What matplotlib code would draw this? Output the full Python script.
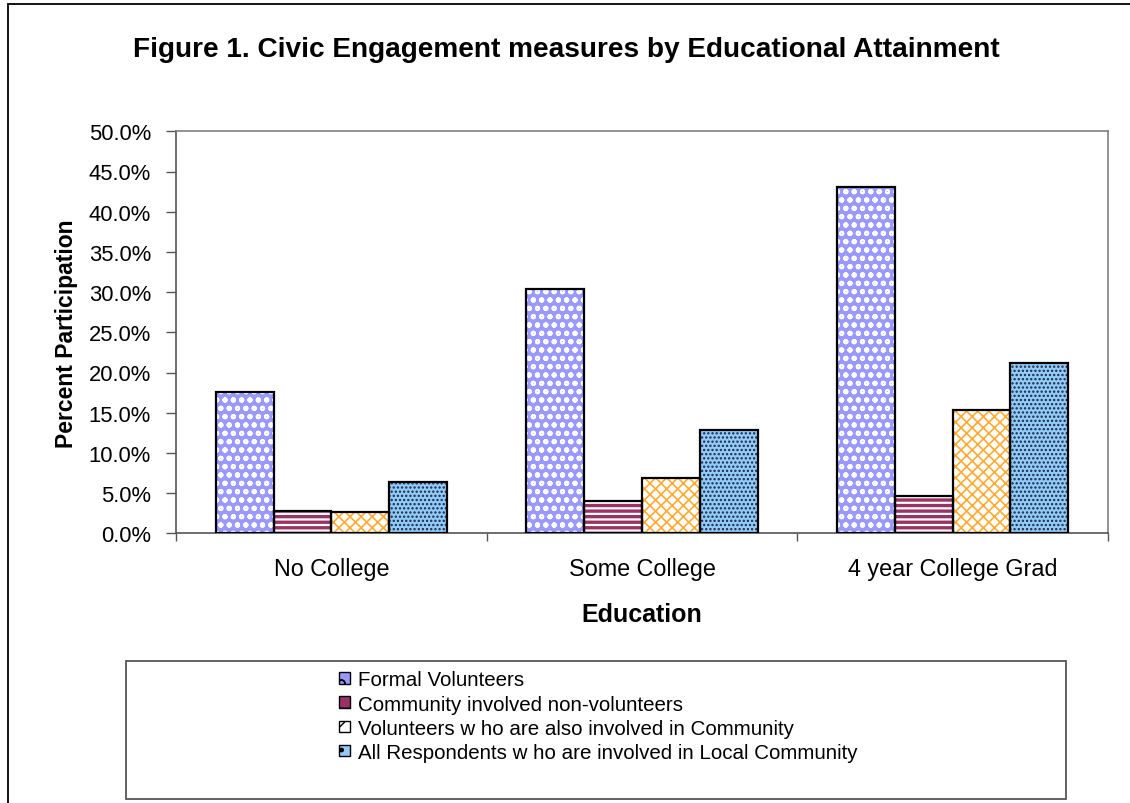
import matplotlib
matplotlib.use("Agg")
import matplotlib.pyplot as plt
import numpy as np
from matplotlib.patches import Rectangle, Patch
from matplotlib.ticker import FuncFormatter, MultipleLocator, FixedLocator

plt.rcParams['font.family'] = ['Liberation Sans', 'DejaVu Sans']

categories = ["No College", "Some College", "4 year College Grad"]
series_names = [
    "Formal Volunteers",
    "Community involved non-volunteers",
    "Volunteers w ho are also involved in Community",
    "All Respondents w ho are involved in Local Community",
]
formal_volunteers = [17.6, 30.4, 43.1]
community_nonvol = [2.8, 4.0, 4.7]
vol_community = [2.6, 6.9, 15.3]
all_respondents = [6.4, 12.9, 21.2]
values = [formal_volunteers, community_nonvol, vol_community, all_respondents]

faces = ['#9999FF', '#993366', '#FFFFFF', '#92CBFA']
hatches = ['oo', '---', 'xxx', '....']
hatch_colors = ['#FFFFFF', '#FFFFFF', '#FFAA33', '#1A2A44']
hatch_lws = [1.4, 1.6, 1.2, 1.1]

fig = plt.figure(figsize=(11.3, 8.04), dpi=100)
W, H = 1130, 804
ax = fig.add_axes([176 / W, 1 - 534.3 / H, (1108 - 176) / W, (534.3 - 132.3) / H])

x = np.arange(len(categories))
bw = 0.186
offsets = (np.arange(4) - 1.5) * bw


def set_hlw(p, lw):
    if hasattr(p, 'set_hatch_linewidth'):
        p.set_hatch_linewidth(lw)


for i in range(4):
    with plt.rc_context({'hatch.linewidth': hatch_lws[i]}):
        bars = ax.bar(x + offsets[i], values[i], bw, color=faces[i], hatch=hatches[i],
                      edgecolor=hatch_colors[i], linewidth=0, zorder=2)
    for b in bars:
        set_hlw(b, hatch_lws[i])
    ax.bar(x + offsets[i], values[i], bw, facecolor='none',
           edgecolor='black', linewidth=1.6, zorder=3)

ax.set_xlim(-0.5, 2.5)
ax.set_ylim(0, 50)
ax.yaxis.set_major_locator(MultipleLocator(5))
ax.yaxis.set_major_formatter(FuncFormatter(lambda v, p: f"{v:.1f}%"))
ax.set_xticks(x)
ax.set_xticklabels(categories, fontsize=16.8)
ax.xaxis.set_minor_locator(FixedLocator([-0.5, 0.5, 1.5, 2.5]))
ax.tick_params(axis='x', which='major', length=0, pad=17)
ax.tick_params(axis='x', which='minor', length=6, width=1, color='#555555', direction='out')
ax.tick_params(axis='y', which='major', length=7, width=1, color='#555555', direction='out',
               labelsize=15.8, pad=11)
for s in ['top', 'right']:
    ax.spines[s].set_color('#808080')
    ax.spines[s].set_linewidth(1.2)
for s in ['left', 'bottom']:
    ax.spines[s].set_color('#555555')
    ax.spines[s].set_linewidth(1.2)

ax.set_xlabel("Education", fontsize=18, fontweight='bold', labelpad=16)
ax.set_ylabel("Percent Participation", fontsize=16.5, fontweight='bold')
ax.yaxis.set_label_coords((78 - 176) / (1108 - 176), 0.5)

fig.text(566 / W, 1 - 50 / H, "Figure 1. Civic Engagement measures by Educational Attainment",
         ha='center', va='center', fontsize=20.2, fontweight='bold')

# figure border (left/top visible)
fig.patches.append(Rectangle((8 / W, -0.05), 1.2, 1 - 5 / H + 0.05, transform=fig.transFigure,
                             facecolor='none', edgecolor='black', linewidth=1.3))
# legend box
fig.patches.append(Rectangle((126 / W, 1 - 800 / H), (1066 - 126) / W, (800 - 662) / H,
                             transform=fig.transFigure, facecolor='white',
                             edgecolor='#555555', linewidth=1.3, zorder=1))

handles = []
for i in range(4):
    with plt.rc_context({'hatch.linewidth': 0.8}):
        handles.append(Patch(facecolor=faces[i], edgecolor='black', linewidth=1.0,
                             hatch=hatches[i][:1]))
leg = fig.legend(handles, series_names, loc='upper left',
                 bbox_to_anchor=(325 / W, 1 - 657 / H), frameon=False, fontsize=14.8,
                 handlelength=0.5, handleheight=0.5, handletextpad=0.4,
                 labelspacing=0.25, borderpad=0.2)
leg.set_zorder(5)

fig.savefig("out.png", dpi=100)
